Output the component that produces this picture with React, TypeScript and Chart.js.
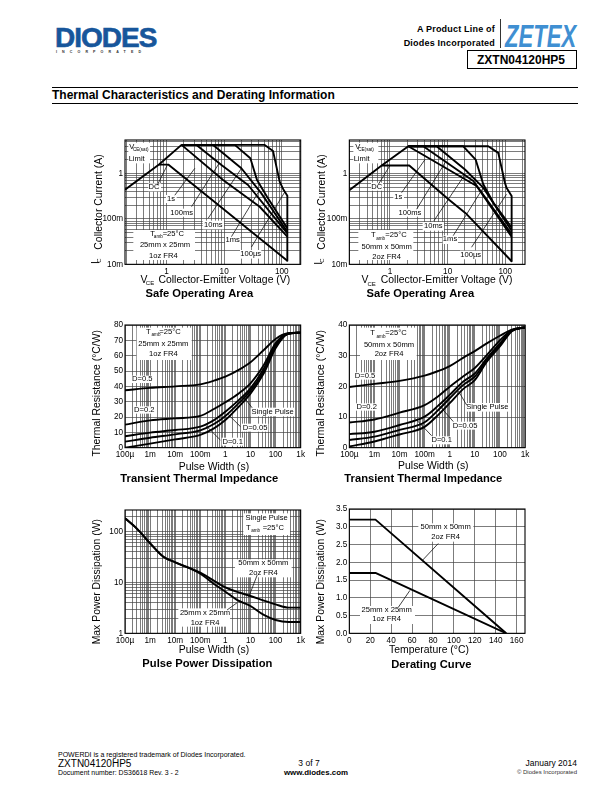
import React, { useEffect, useRef } from "react";
import { Chart, registerables } from "chart.js";

Chart.register(...registerables);

const FONT = "'Liberation Sans', Arial, sans-serif";

// ---------- axis tick data ----------
const soaXDecades = [0.1, 1, 10, 100];
const soaXLabels = ["", "1", "10", "100"];
const soaYDecades = [0.01, 0.1, 1];
const soaYLabels = ["10m", "100m", "1"];
const timeDecades = [0.0001, 0.001, 0.01, 0.1, 1, 10, 100, 1000];
const timeLabels = ["100µ", "1m", "10m", "100m", "1", "10", "100", "1k"];
const powerDecades = [1, 10, 100];
const powerLabels = ["1", "10", "100"];

// ---------- Safe Operating Area, 25mm x 25mm ([V, A]) ----------
const soa25Limit = [[0.19, 0.44], [0.74, 1.58], [1.82, 4.29]];
const soa25Dc = [[0.74, 1.58], [1.07, 1.58], [7.85, 0.205], [125, 0.012]];
const soa25OneS = [[1.82, 4.29], [9.58, 0.724], [41.4, 0.186], [125, 0.0406]];
const soa25Ms100 = [[1.82, 4.29], [3.31, 4.29], [8.97, 1.55], [26, 0.561], [125, 0.048]];
const soa25Ms10 = [[1.82, 4.29], [6.43, 4.29], [19.9, 1.31], [44.3, 0.367], [125, 0.0525]];
const soa25Ms1 = [[1.82, 4.29], [15.3, 4.29], [28.5, 2.18], [37.2, 0.724], [55.5, 0.31], [125, 0.062]];
const soa25Us100 = [[1.82, 4.29], [50.6, 4.29], [70.5, 3.16], [92, 0.665], [108, 0.434], [125, 0.326], [125, 0.012]];
const soa25Leaders = [
  [[0.689, 0.553], [1.03, 1.53]],
  [[1.39, 0.333], [3.1, 1.31]],
  [[2.72, 0.187], [8.19, 1.69]],
  [[5.28, 0.1035], [20, 1.31]],
  [[13.4, 0.0408], [41.5, 0.436]],
  [[29.8, 0.0241], [113, 0.394]],
];

// ---------- Safe Operating Area, 50mm x 50mm ([V, A]) ----------
const soa50Limit = [[0.197, 0.428], [0.717, 1.51], [2.08, 4.0]];
const soa50Dc = [[0.717, 1.51], [2.16, 1.51], [10.3, 0.272], [21.3, 0.128], [129, 0.0117]];
const soa50OneS = [[2.08, 4.0], [31.8, 0.532], [129, 0.0407]];
const soa50Ms100 = [[2.08, 4.0], [3.78, 4.0], [27.9, 0.685], [129, 0.0466]];
const soa50Ms10 = [[2.08, 4.0], [6.44, 4.0], [20, 1.23], [41.5, 0.49], [129, 0.055]];
const soa50Ms1 = [[2.08, 4.0], [18.7, 4.0], [30.6, 2.04], [41.5, 0.58], [61.9, 0.23], [129, 0.065]];
const soa50Us100 = [[2.08, 4.0], [50.7, 4.0], [75.6, 2.86], [98.6, 0.63], [105, 0.49], [129, 0.321], [129, 0.0117]];
const soa50Leaders = [
  [[0.628, 0.579], [1, 1.51]],
  [[1.59, 0.38], [4.05, 2.04]],
  [[2.9, 0.164], [9, 1.73]],
  [[5.79, 0.0912], [20, 0.96]],
  [[12.5, 0.0428], [41.5, 0.49]],
  [[26, 0.0238], [105, 0.35]],
];

// ---------- Transient Thermal Impedance, 25mm x 25mm ([s, °C/W]) ----------
const tti25Time = [0.0001, 0.001, 0.01, 0.1, 0.35, 1, 3.4, 10, 34, 100, 300, 1000];
const tti25D05 = [37.4, 39, 40, 41.3, 43.7, 46.3, 50.7, 55.7, 63.7, 70.9, 74.6, 75];
const tti25D02 = [15, 17.8, 19.1, 20.7, 25.2, 29.6, 35.4, 42, 53.9, 68, 74.3, 75];
const tti25D01 = [7.4, 9.8, 11.5, 13.7, 18, 23.5, 31, 38.7, 51.7, 67, 74.2, 75];
const tti25D005 = [3.9, 6.5, 8.7, 11.3, 15.4, 20.7, 29, 37, 50, 65.9, 74.1, 75];
const tti25Single = [0, 2.6, 5.4, 8.3, 12.6, 18, 26.7, 35.2, 48.5, 64.8, 74, 75];
const tti25Leaders = [
  [[11.7, 26], [5.4, 33]],
  [[4, 13.7], [1.17, 22.4]],
  [[0.631, 5], [0.158, 14.8]],
];

// ---------- Transient Thermal Impedance, 50mm x 50mm ([s, °C/W]) ----------
const tti50Time = [0.0001, 0.001, 0.01, 0.1, 0.35, 1, 3.4, 10, 30, 100, 300, 1000];
const tti50D05 = [19.8, 20.8, 21.8, 23.5, 25, 26.6, 29.3, 31.5, 34, 36.5, 38.5, 39.2];
const tti50D02 = [8.2, 9.2, 11.4, 13.9, 16.8, 19.9, 23.2, 26, 30.2, 35, 38.3, 39.2];
const tti50D01 = [4.4, 5.2, 7.4, 10.1, 13.7, 17.2, 21.5, 24.2, 29.1, 34, 38.2, 39.2];
const tti50D005 = [2.5, 3.6, 5.8, 8.3, 12.3, 16.1, 20.4, 23.2, 28.6, 33.5, 38.1, 39.2];
const tti50Single = [0.4, 2, 4.3, 6.8, 10.7, 14.5, 19.1, 22, 28, 33, 38, 39.2];
const tti50Leaders = [
  [[4.73, 13.9], [2.2, 18.5]],
  [[1.39, 8.5], [0.352, 14.1]],
  [[0.19, 3.9], [0.0413, 9.6]],
];

// ---------- Pulse Power Dissipation ([s, W]) ----------
const ppd50 = [[0.0001, 183], [0.00029, 116], [0.001, 59], [0.0034, 32], [0.01, 25], [0.1, 15.6], [1, 8.03], [10, 5.43], [100, 3.72], [335, 3.2], [1000, 3.2]];
const ppd25 = [[0.0001, 183], [0.00029, 116], [0.001, 59], [0.0034, 32], [0.01, 25], [0.1, 14.9], [0.33, 9.6], [1, 6.6], [3, 4.5], [10, 3.45], [34, 2.3], [100, 1.83], [335, 1.67], [1000, 1.67]];
const ppdLeaders = [
  [[18.5, 14], [8.6, 5.26]],
  [[1.17, 2.88], [2.93, 4]],
];

// ---------- Derating Curve ([°C, W]) ----------
const derate50 = [[0, 3.2], [25, 3.2], [150, 0]];
const derate25 = [[0, 1.7], [25, 1.7], [150, 0]];
const derateLeaders = [
  [[70.1, 2.06], [85.1, 2.53]],
  [[46.9, 0.736], [58, 1.21]],
];

// ---------- notes: [text, x, y, size, weight, rotated], placed on each 3x crop ----------
type Note = [string, number, number, number?, string?, boolean?];
type Box = [number, number, number, number];

const soaYTitle = "Collector Current (A)";
const soaXTitle = "Collector-Emitter Voltage (V)";
const soaTitle = "Safe Operating Area";
const ttiYTitle = "Thermal Resistance (°C/W)";
const widthTitle = "Pulse Width (s)";
const ttiTitle = "Transient Thermal Impedance";
const powerYTitle = "Max Power Dissipation (W)";
const ppdTitle = "Pulse Power Dissipation";
const tempTitle = "Temperature (°C)";
const derateTitle = "Derating Curve";

const AX = 10.4;
const TI = 11.2;
const LB = 7.6;
const SUB = 4.6;

const soa25Notes: Note[] = [
  ["I", 47, 398, AX, "normal", true], ["C", 58, 392, 6, "normal", true],
  [soaYTitle, 57, 216, AX, "normal", true],
  ["V", 192, 450, AX], ["CE", 210, 460, 6], [soaXTitle, 433, 450, AX],
  [soaTitle, 358, 492, TI, "bold"],
  ["V", 155, 52, LB], ["CE(sat)", 182, 60, SUB], ["Limit", 170, 88, LB],
  ["DC", 222, 172, LB], ["1s", 273, 207, LB], ["100ms", 305, 248, LB],
  ["10ms", 400, 285, LB], ["1ms", 458, 331, LB], ["100µs", 512, 372, LB],
  ["T", 218, 312, LB], ["amb", 235, 320, SUB], ["=25°C", 280, 312, LB],
  ["25mm x 25mm", 255, 345, LB], ["1oz FR4", 250, 377, LB],
];
const soa25Boxes: Box[] = [[145, 38, 65, 62], [205, 160, 38, 24], [258, 195, 32, 24], [272, 236, 68, 24], [368, 272, 64, 26], [435, 318, 46, 26], [480, 360, 64, 26], [160, 300, 185, 90]];

const soa50Notes: Note[] = [
  ["I", 27, 400, AX, "normal", true], ["C", 38, 392, 6, "normal", true],
  [soaYTitle, 36, 216, AX, "normal", true],
  ["V", 165, 450, AX], ["CE", 185, 462, 6], [soaXTitle, 410, 450, AX],
  [soaTitle, 331, 492, TI, "bold"],
  ["V", 143, 52, LB], ["CE(sat)", 168, 60, SUB], ["Limit", 155, 88, LB],
  ["DC", 200, 170, LB], ["1s", 265, 200, LB], ["100ms", 300, 248, LB],
  ["10ms", 370, 288, LB], ["1ms", 420, 328, LB], ["100µs", 482, 375, LB],
  ["T", 190, 315, LB], ["amb", 212, 326, SUB], ["=25°C", 258, 315, LB],
  ["50mm x 50mm", 230, 352, LB], ["2oz FR4", 230, 382, LB],
];
const soa50Boxes: Box[] = [[130, 38, 75, 62], [183, 158, 36, 24], [250, 188, 32, 24], [268, 236, 66, 24], [338, 276, 64, 26], [398, 316, 46, 26], [450, 362, 64, 26], [145, 300, 165, 90]];

const tti25Notes: Note[] = [
  [ttiYTitle, 51, 235, AX, "normal", true],
  [widthTitle, 402, 456, AX], [ttiTitle, 358, 492, TI, "bold"],
  ["T", 205, 52, LB], ["amb", 228, 60, SUB], ["=25°C", 270, 52, LB],
  ["25mm x 25mm", 250, 88, LB], ["1oz FR4", 250, 118, LB],
  ["D=0.5", 187, 193, LB], ["D=0.2", 193, 285, LB],
  ["Single Pulse", 578, 291, LB], ["D=0.05", 525, 338, LB], ["D=0.1", 458, 380, LB],
];
const tti25Boxes: Box[] = [[170, 38, 165, 97], [155, 182, 65, 22], [160, 274, 66, 22], [512, 278, 130, 26], [485, 326, 80, 24], [425, 368, 66, 24]];

const tti50Notes: Note[] = [
  [ttiYTitle, 33, 235, AX, "normal", true],
  [widthTitle, 370, 453, AX], [ttiTitle, 340, 492, TI, "bold"],
  ["T", 188, 55, LB], ["amb", 213, 65, SUB], ["=25°C", 258, 55, LB],
  ["50mm x 50mm", 237, 90, LB], ["2oz FR4", 237, 118, LB],
  ["D=0.5", 165, 183, LB], ["D=0.2", 170, 276, LB],
  ["Single Pulse", 532, 277, LB], ["D=0.05", 465, 332, LB], ["D=0.1", 395, 375, LB],
];
const tti50Boxes: Box[] = [[150, 38, 170, 97], [132, 172, 66, 22], [138, 265, 66, 22], [468, 264, 130, 26], [426, 320, 80, 24], [362, 364, 66, 24]];

const ppdNotes: Note[] = [
  [powerYTitle, 51, 245, AX, "normal", true],
  [widthTitle, 402, 450, AX], [ppdTitle, 382, 492, TI, "bold"],
  ["Single Pulse", 560, 55, LB], ["T", 505, 85, LB], ["amb", 527, 92, SUB], ["=25°C", 580, 85, LB],
  ["50mm x 50mm", 550, 190, LB], ["2oz FR4", 550, 218, LB],
  ["25mm x 25mm", 375, 338, LB], ["1oz FR4", 375, 368, LB],
];
const ppdBoxes: Box[] = [[490, 40, 140, 65], [465, 178, 170, 54], [295, 325, 155, 55]];

const derateNotes: Note[] = [
  [powerYTitle, 33, 245, AX, "normal", true],
  [tempTitle, 357, 450, AX], [derateTitle, 364, 495, TI, "bold"],
  ["50mm x 50mm", 407, 82, LB], ["2oz FR4", 407, 110, LB],
  ["25mm x 25mm", 230, 330, LB], ["1oz FR4", 230, 358, LB],
];
const derateBoxes: Box[] = [[325, 70, 165, 55], [150, 318, 165, 54]];

// ---------- helpers ----------
const pairs = (list: number[][]) => list.map(([x, y]) => ({ x, y }));
const zip = (xs: number[], ys: number[]) => xs.map((x, i) => ({ x, y: ys[i] }));
const curve = (label: string, data: any[], smooth = false) => ({
  label, data, borderColor: "#000", borderWidth: 1.9, pointRadius: 0, fill: false,
  cubicInterpolationMode: smooth ? ("monotone" as const) : ("default" as const), tension: 0,
  borderJoinStyle: "round" as const,
});
const leader = (list: number[][]) => ({
  label: "leader", data: pairs(list), borderColor: "#111", borderWidth: 0.8, pointRadius: 0, fill: false, tension: 0,
});

const logAxis = (decades: number[], labels: string[], min: number, max: number) => ({
  type: "logarithmic" as const,
  min, max,
  afterBuildTicks(scale: any) {
    const out: any[] = [];
    decades.forEach((d) => [1, 2, 3, 4, 5, 6, 7, 8, 9].forEach((m) => {
      const v = d * m;
      if (v >= min && v <= max) out.push({ value: v });
    }));
    scale.ticks = out;
  },
  ticks: {
    autoSkip: false, maxRotation: 0, minRotation: 0, color: "#000", padding: 2,
    font: { family: FONT, size: 8.2 },
    callback: (v: any) => { const i = decades.indexOf(v); return i >= 0 ? labels[i] : ""; },
  },
  grid: { color: "#444", lineWidth: 0.7, drawTicks: false },
  border: { display: false },
});
const linearAxis = (min: number, max: number, step: number, digits: number) => ({
  type: "linear" as const,
  min, max,
  ticks: {
    stepSize: step, includeBounds: false, autoSkip: false, maxRotation: 0, color: "#000", padding: 2,
    font: { family: FONT, size: 8.2 },
    callback: (v: any) => Number(v).toFixed(digits),
  },
  grid: { color: "#444", lineWidth: 0.7, drawTicks: false },
  border: { display: false },
});

type Spec = {
  name: string; left: number; top: number;
  plot: [number, number, number, number];
  x: any; y: any; datasets: any[]; notes: Note[]; boxes: Box[];
};

const CW = 230;
const CH = 175;

const soaX = () => logAxis(soaXDecades, soaXLabels, 0.19, 213);
const soaY = () => logAxis(soaYDecades, soaYLabels, 0.01, 5.5);
const timeX = () => logAxis(timeDecades, timeLabels, 0.0001, 1000);

const specs: Spec[] = [
  {
    name: "soa25", left: 80, top: 130, plot: [135, 30, 662, 403], x: soaX(), y: soaY(),
    datasets: [
      curve("VCE(sat) limit", pairs(soa25Limit)), curve("DC", pairs(soa25Dc)), curve("1s", pairs(soa25OneS)),
      curve("100ms", pairs(soa25Ms100)), curve("10ms", pairs(soa25Ms10)), curve("1ms", pairs(soa25Ms1)),
      curve("100µs", pairs(soa25Us100)), ...soa25Leaders.map(leader),
    ],
    notes: soa25Notes, boxes: soa25Boxes,
  },
  {
    name: "soa50", left: 310, top: 130, plot: [118, 30, 645, 403], x: logAxis(soaXDecades, soaXLabels, 0.197, 220), y: soaY(),
    datasets: [
      curve("VCE(sat) limit", pairs(soa50Limit)), curve("DC", pairs(soa50Dc)), curve("1s", pairs(soa50OneS)),
      curve("100ms", pairs(soa50Ms100)), curve("10ms", pairs(soa50Ms10)), curve("1ms", pairs(soa50Ms1)),
      curve("100µs", pairs(soa50Us100)), ...soa50Leaders.map(leader),
    ],
    notes: soa50Notes, boxes: soa50Boxes,
  },
  {
    name: "tti25", left: 80, top: 315, plot: [135, 30, 662, 398], x: timeX(), y: linearAxis(0, 80, 10, 0),
    datasets: [
      curve("D=0.5", zip(tti25Time, tti25D05), true), curve("D=0.2", zip(tti25Time, tti25D02), true),
      curve("D=0.1", zip(tti25Time, tti25D01), true), curve("D=0.05", zip(tti25Time, tti25D005), true),
      curve("Single Pulse", zip(tti25Time, tti25Single), true), ...tti25Leaders.map(leader),
    ],
    notes: tti25Notes, boxes: tti25Boxes,
  },
  {
    name: "tti50", left: 310, top: 315, plot: [118, 30, 645, 398], x: timeX(), y: linearAxis(0, 40, 10, 0),
    datasets: [
      curve("D=0.5", zip(tti50Time, tti50D05), true), curve("D=0.2", zip(tti50Time, tti50D02), true),
      curve("D=0.1", zip(tti50Time, tti50D01), true), curve("D=0.05", zip(tti50Time, tti50D005), true),
      curve("Single Pulse", zip(tti50Time, tti50Single), true), ...tti50Leaders.map(leader),
    ],
    notes: tti50Notes, boxes: tti50Boxes,
  },
  {
    name: "ppd", left: 80, top: 500, plot: [135, 30, 662, 400], x: timeX(), y: logAxis(powerDecades, powerLabels, 1, 267),
    datasets: [
      curve("50mm x 50mm", pairs(ppd50), true), curve("25mm x 25mm", pairs(ppd25), true), ...ppdLeaders.map(leader),
    ],
    notes: ppdNotes, boxes: ppdBoxes,
  },
  {
    name: "derate", left: 310, top: 500, plot: [118, 27, 645, 400], x: linearAxis(0, 168, 20, 0), y: linearAxis(0, 3.5, 0.5, 1),
    datasets: [
      curve("50mm x 50mm", pairs(derate50)), curve("25mm x 25mm", pairs(derate25)), ...derateLeaders.map(leader),
    ],
    notes: derateNotes, boxes: derateBoxes,
  },
];

const notesPlugin = (spec: Spec) => ({
  id: "notes",
  beforeDatasetsDraw(chart: any) {
    const { ctx } = chart;
    ctx.save();
    ctx.fillStyle = "#fff";
    spec.boxes.forEach(([x, y, w, h]) => ctx.fillRect(x / 3, y / 3, w / 3, h / 3));
    ctx.restore();
  },
  afterDatasetsDraw(chart: any) {
    const { ctx, chartArea: a } = chart;
    ctx.save();
    ctx.strokeStyle = "#000";
    ctx.lineWidth = 1.1;
    ctx.strokeRect(a.left, a.top, a.right - a.left, a.bottom - a.top);
    ctx.fillStyle = "#000";
    ctx.textAlign = "center";
    ctx.textBaseline = "middle";
    spec.notes.forEach(([text, x, y, size = LB, weight = "normal", rotated = false]) => {
      ctx.save();
      ctx.font = `${weight} ${size}px ${FONT}`;
      ctx.translate(x / 3, y / 3);
      if (rotated) ctx.rotate(-Math.PI / 2);
      ctx.fillText(text, 0, 0);
      ctx.restore();
    });
    ctx.restore();
  },
});

function Panel({ spec }: { spec: Spec }) {
  const ref = useRef<HTMLCanvasElement>(null);
  useEffect(() => {
    const [pl, pt, pr, pb] = spec.plot;
    const chart = new Chart(ref.current as HTMLCanvasElement, {
      type: "line",
      data: { datasets: spec.datasets },
      options: {
        animation: false,
        responsive: false,
        devicePixelRatio: 1,
        parsing: false as any,
        normalized: false,
        layout: { padding: { left: 0, top: pt / 3, right: CW - pr / 3, bottom: 0 } },
        plugins: { legend: { display: false }, title: { display: false }, tooltip: { enabled: false } },
        scales: {
          x: {
            ...spec.x, position: "bottom",
            afterFit(s: any) { s.height = CH - pb / 3; s.paddingLeft = 0; s.paddingRight = 0; },
          },
          y: {
            ...spec.y, position: "left",
            afterFit(s: any) { s.width = pl / 3; s.paddingTop = 0; s.paddingBottom = 0; },
          },
        },
      } as any,
      plugins: [notesPlugin(spec)],
    });
    return () => chart.destroy();
  }, [spec]);
  return (
    <canvas
      ref={ref}
      width={CW}
      height={CH}
      style={{ position: "absolute", left: spec.left, top: spec.top, width: CW, height: CH }}
    />
  );
}

const T = ({ x, y, size, right, center, bold, color, spacing, children }: any) => (
  <div
    style={{
      position: "absolute",
      top: y - size / 2,
      left: right || center ? undefined : x,
      ...(right ? { right: 612 - x } : {}),
      ...(center ? { left: x - 150, width: 300, textAlign: "center" as const } : {}),
      fontFamily: FONT, fontSize: size, lineHeight: `${size}px`, fontWeight: bold ? 700 : 400,
      color: color || "#000", whiteSpace: "nowrap", letterSpacing: spacing,
    }}
  >
    {children}
  </div>
);

export default function App() {
  return (
    <div style={{ position: "absolute", left: 0, top: 0, width: 612, height: 792, background: "#fff", overflow: "hidden" }}>
      <div style={{ position: "absolute", left: 55, top: 24, fontFamily: FONT, fontSize: 28, lineHeight: "28px", fontWeight: 700, color: "#17569b", letterSpacing: -1, WebkitTextStroke: "0.6px #17569b" }}>DIODES</div>
      <T x={56} y={53} size={3.6} bold color="#333" spacing={5.1}>INCORPORATED</T>
      <T x={495} y={29} size={9} bold right spacing={0.2}>A Product Line of</T>
      <T x={495} y={43} size={9} bold right spacing={0.2}>Diodes Incorporated</T>
      <div style={{ position: "absolute", left: 500, top: 19, width: 1, height: 29, background: "#333" }} />
      <div style={{ position: "absolute", left: 505, top: 20, fontFamily: FONT, fontSize: 32, lineHeight: "32px", fontWeight: 700, fontStyle: "italic", color: "#3f8fd2", transform: "scaleX(0.69)", transformOrigin: "left center" }}>ZETEX</div>
      <div style={{ position: "absolute", left: 467, top: 50, width: 108, height: 17, border: "1px solid #000" }} />
      <T x={521} y={59.5} size={12} bold center>ZXTN04120HP5</T>

      <div style={{ position: "absolute", left: 52, top: 87, width: 526, height: 1, background: "#000" }} />
      <T x={52} y={95} size={12} bold>Thermal Characteristics and Derating Information</T>
      <div style={{ position: "absolute", left: 52, top: 103, width: 526, height: 1, background: "#000" }} />

      {specs.map((s) => <Panel key={s.name} spec={s} />)}

      <T x={58} y={754} size={7}>POWERDI is a registered trademark of Diodes Incorporated.</T>
      <T x={58} y={763.7} size={10}>ZXTN04120HP5</T>
      <T x={58} y={773} size={6.9}>Document number: DS36618 Rev. 3 - 2</T>
      <T x={309} y={763.5} size={8.5} center>3 of 7</T>
      <T x={316} y={773} size={7.9} bold center>www.diodes.com</T>
      <T x={577} y={763.5} size={8.5} right>January 2014</T>
      <T x={577} y={772} size={6} right color="#333">© Diodes Incorporated</T>
    </div>
  );
}
